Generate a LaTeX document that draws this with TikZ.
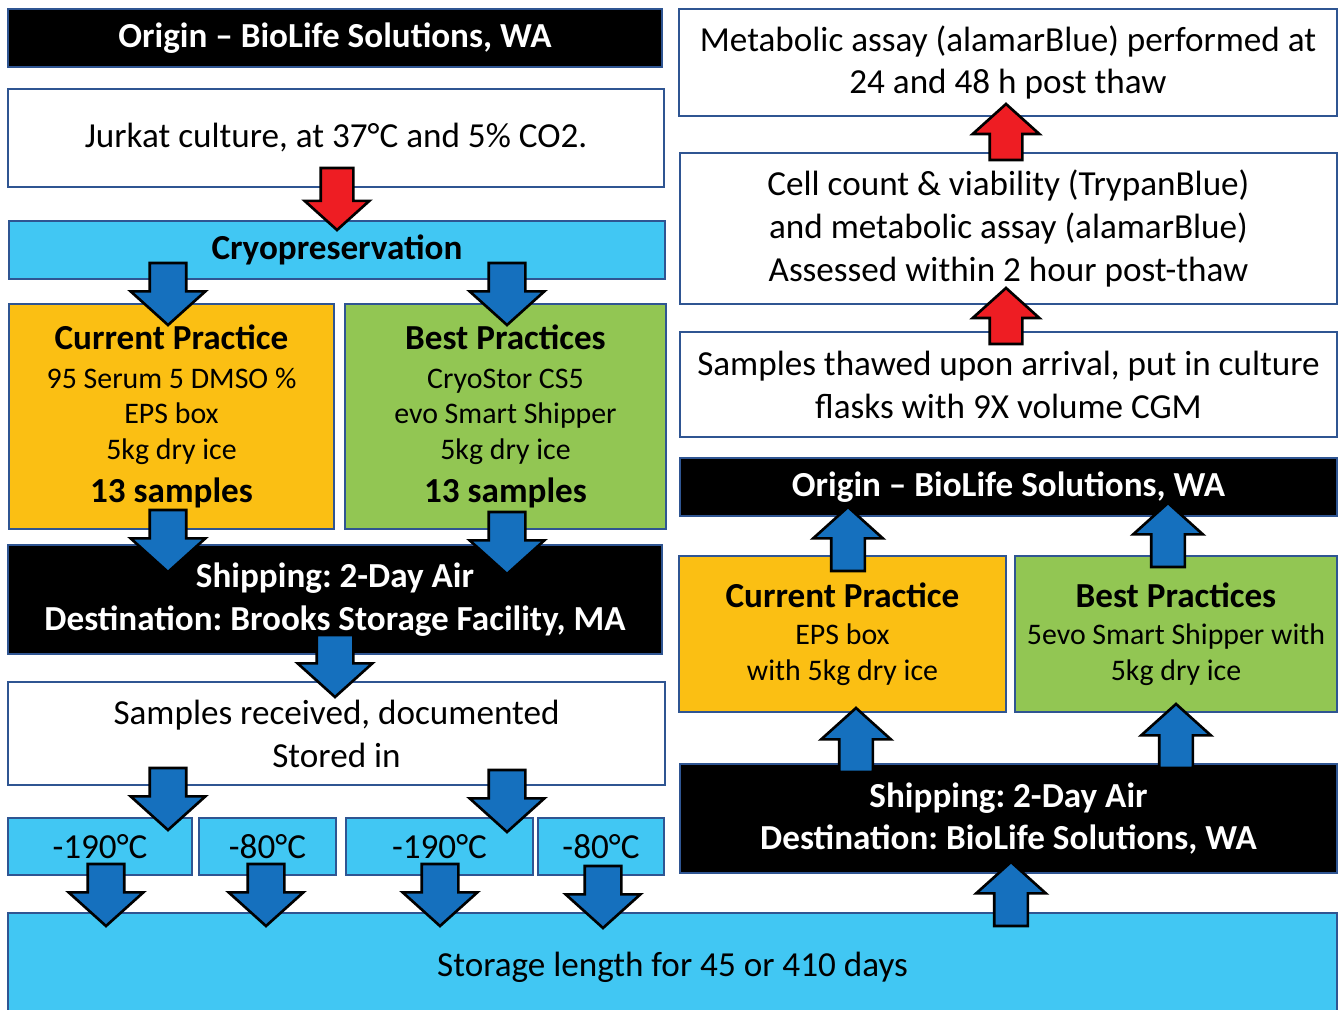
\documentclass[tikz,border=0pt]{standalone}
\usepackage{fontspec}
\setmainfont{Carlito}
\usetikzlibrary{shapes.arrows}
\frenchspacing

\definecolor{edge}{HTML}{2F5592}
\definecolor{amber}{HTML}{FBBF13}
\definecolor{leaf}{HTML}{92C653}
\definecolor{ice}{HTML}{41C7F3}
\definecolor{flow}{HTML}{1570BE}
\definecolor{alarm}{HTML}{EE1D23}

\newcommand{\hdfont}{\fontsize{20}{24}\selectfont\bfseries}

\tikzset{
  box/.style={draw=edge, line width=1.2pt, inner sep=0pt, align=center,
    font=\fontsize{20}{24.4}\selectfont},
  darkbox/.style={box, fill=black, text=white, font=\fontsize{20}{24.4}\selectfont\bfseries},
  plainbox/.style={box, fill=white},
  icebox/.style={box, fill=ice},
  curbox/.style={box, fill=amber, font=\fontsize{17}{20.2}\selectfont},
  bestbox/.style={box, fill=leaf, font=\fontsize{17}{20.2}\selectfont},
  blockarrow/.style={single arrow, draw=black, line width=1.5pt,
    outer sep=0pt, single arrow tip angle=96, anchor=tip},
  dnarrow/.style={blockarrow, fill=flow, shape border rotate=270, inner sep=0.34cm,
    minimum height=1.24cm, single arrow head extend=0.38cm},
  uparrow/.style={blockarrow, fill=flow, shape border rotate=90, inner sep=0.31cm,
    minimum height=1.28cm, single arrow head extend=0.36cm},
  reddown/.style={blockarrow, fill=alarm, shape border rotate=270, inner sep=0.3cm,
    minimum height=1.24cm, single arrow head extend=0.32cm},
  redup/.style={blockarrow, fill=alarm, shape border rotate=90, inner sep=0.3cm,
    minimum height=1.12cm, single arrow head extend=0.34cm},
}

\begin{document}
\begin{tikzpicture}[x=0.02cm,y=-0.02cm]
\useasboundingbox (0,0) rectangle (1338,1010);

% storage at the bottom
\node[icebox, minimum width=26.58cm, minimum height=2.16cm] (store) at (672.5,967) {Storage length for 45 or 410 days};

% left column: outbound
\node[darkbox, minimum width=13.08cm, minimum height=1.16cm] (orgA) at (335,38) {Origin – BioLife Solutions, WA};
\node[plainbox, minimum width=13.12cm, minimum height=1.96cm] (jurkat) at (336,138) {Jurkat culture, at 37°C and 5\% CO2.};
\node[icebox, minimum width=13.12cm, minimum height=1.16cm, font=\hdfont] (cryo) at (337,250) {Cryopreservation};
\node[curbox, minimum width=6.5cm, minimum height=4.5cm] (curA) at (171.5,416.5)
  {{\hdfont Current Practice}\\[2pt]95 Serum 5 DMSO \%\\EPS box\\5kg dry ice\\[4.5pt]{\hdfont 13 samples}};
\node[bestbox, minimum width=6.42cm, minimum height=4.5cm] (bestA) at (505.5,416.5)
  {{\hdfont Best Practices}\\[2pt]CryoStor CS5\\evo Smart Shipper\\5kg dry ice\\[4.5pt]{\hdfont 13 samples}};
\node[darkbox, minimum width=13.08cm, minimum height=2.18cm] (shipA) at (335,599.5)
  {Shipping: 2-Day Air\\Destination: Brooks Storage Facility, MA};
\node[plainbox, minimum width=13.14cm, minimum height=2.06cm] (recv) at (336.5,733.5)
  {Samples received, documented\\Stored in};
\node[icebox, minimum width=3.68cm, minimum height=1.14cm] (tA) at (100,846.5) {-190°C};
\node[icebox, minimum width=2.74cm, minimum height=1.14cm] (tB) at (267.5,846.5) {-80°C};
\node[icebox, minimum width=3.74cm, minimum height=1.14cm] (tC) at (439.5,846.5) {-190°C};
\node[icebox, minimum width=2.52cm, minimum height=1.14cm] (tD) at (601,846.5) {-80°C};

% right column: return trip
\node[plainbox, minimum width=13.16cm, minimum height=2.14cm] (metab) at (1008,62.5)
  {Metabolic assay (alamarBlue) performed at\\24 and 48 h post thaw};
\node[plainbox, minimum width=13.14cm, minimum height=3.02cm] (cellc) at (1008.5,228.5)
  {Cell count \& viability (TrypanBlue)\\and metabolic assay (alamarBlue)\\Assessed within 2 hour post-thaw};
\node[plainbox, minimum width=13.14cm, minimum height=2.1cm] (thaw) at (1008.5,384.5)
  {Samples thawed upon arrival, put in culture\\flasks with 9X volume CGM};
\node[darkbox, minimum width=13.14cm, minimum height=1.16cm] (orgB) at (1008.5,487) {Origin – BioLife Solutions, WA};
\node[curbox, minimum width=6.54cm, minimum height=3.12cm, font=\fontsize{17}{20.4}\selectfont] (curB) at (842.5,634)
  {{\hdfont Current Practice}\\[1pt]EPS box\\with 5kg dry ice};
\node[bestbox, minimum width=6.44cm, minimum height=3.12cm, font=\fontsize{17}{20.4}\selectfont] (bestB) at (1176,634)
  {{\hdfont Best Practices}\\[1pt]5evo Smart Shipper with\\5kg dry ice};
\node[darkbox, minimum width=13.14cm, minimum height=2.18cm] (shipB) at (1008.5,818.5)
  {Shipping: 2-Day Air\\Destination: BioLife Solutions, WA};

% block arrows
\node[reddown] (r1) at (337,230) {};
\node[dnarrow] (d1) at (168,325) {};
\node[dnarrow] (d2) at (507,325) {};
\node[dnarrow] (d3) at (168,572) {};
\node[dnarrow] (d4) at (507,574) {};
\node[dnarrow] (d5) at (335,697) {};
\node[dnarrow] (d6) at (168,830) {};
\node[dnarrow] (d7) at (507,832) {};
\node[dnarrow] (d8) at (106,926) {};
\node[dnarrow] (d9) at (266,926) {};
\node[dnarrow] (d10) at (440,926) {};
\node[dnarrow] (d11) at (603,928) {};

\node[uparrow] (u1) at (1011,862) {};
\node[uparrow] (u2) at (856,708) {};
\node[uparrow] (u3) at (1176,704) {};
\node[uparrow] (u4) at (848,507) {};
\node[uparrow] (u5) at (1168,503) {};
\node[redup] (r2) at (1006,288) {};
\node[redup] (r3) at (1006,104) {};
\end{tikzpicture}
\end{document}
